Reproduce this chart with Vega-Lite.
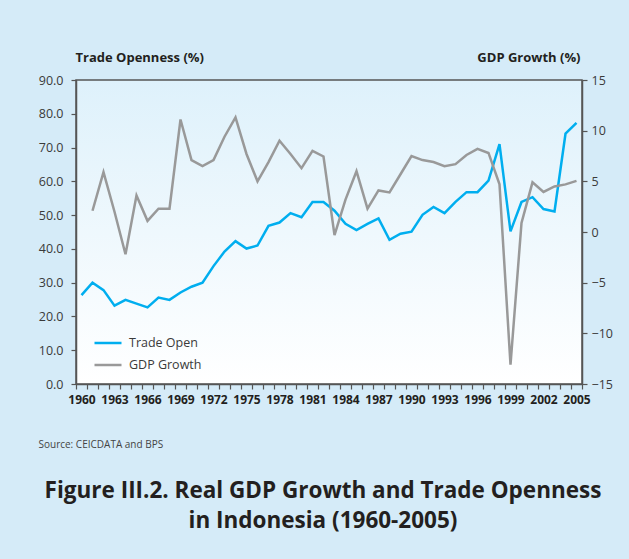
{
  "$schema": "https://vega.github.io/schema/vega-lite/v6.json",
  "width": 506,
  "height": 304,
  "autosize": {"type": "none"},
  "padding": {"left": 76, "top": 80, "right": 47, "bottom": 175},
  "background": "#d5ebf8",
  "title": {
    "text": ["Figure III.2. Real GDP Growth and Trade Openness", "in Indonesia (1960-2005)"],
    "orient": "bottom",
    "anchor": "middle",
    "font": "Open Sans",
    "fontSize": 22.5,
    "fontWeight": "bold",
    "lineHeight": 30,
    "color": "#231f20",
    "offset": 31,
    "dx": -6
  },
  "config": {
    "view": {
      "fill": {"gradient": "linear", "x1": 0, "y1": 0, "x2": 0, "y2": 1, "stops": [{"offset": 0, "color": "#def1fb"}, {"offset": 1, "color": "#ffffff"}]},
      "stroke": "#555555",
      "strokeWidth": 1.5
    },
    "axis": {
      "grid": false,
      "domainColor": "#555555",
      "domainWidth": 1.5,
      "tickColor": "#555555",
      "tickWidth": 1.2,
      "tickSize": 5,
      "labelFont": "Open Sans",
      "labelColor": "#3a3a3a",
      "titleFont": "Open Sans"
    }
  },
  "data": {
    "values": [
      {"year": 1960, "trade": 26.3, "gdp": null},
      {"year": 1961, "trade": 30.0, "gdp": 2.1},
      {"year": 1962, "trade": 27.8, "gdp": 5.9},
      {"year": 1963, "trade": 23.2, "gdp": 2.0},
      {"year": 1964, "trade": 24.9, "gdp": -2.2},
      {"year": 1965, "trade": 23.8, "gdp": 3.6},
      {"year": 1966, "trade": 22.7, "gdp": 1.1},
      {"year": 1967, "trade": 25.6, "gdp": 2.3},
      {"year": 1968, "trade": 24.9, "gdp": 2.3},
      {"year": 1969, "trade": 27.1, "gdp": 11.1},
      {"year": 1970, "trade": 28.8, "gdp": 7.1},
      {"year": 1971, "trade": 30.0, "gdp": 6.5},
      {"year": 1972, "trade": 34.9, "gdp": 7.1},
      {"year": 1973, "trade": 39.2, "gdp": 9.4},
      {"year": 1974, "trade": 42.3, "gdp": 11.3},
      {"year": 1975, "trade": 40.1, "gdp": 7.7},
      {"year": 1976, "trade": 41.0, "gdp": 5.0},
      {"year": 1977, "trade": 46.8, "gdp": 6.9},
      {"year": 1978, "trade": 47.8, "gdp": 9.0},
      {"year": 1979, "trade": 50.6, "gdp": 7.7},
      {"year": 1980, "trade": 49.4, "gdp": 6.3},
      {"year": 1981, "trade": 53.9, "gdp": 8.0},
      {"year": 1982, "trade": 53.9, "gdp": 7.45},
      {"year": 1983, "trade": 51.3, "gdp": -0.3},
      {"year": 1984, "trade": 47.4, "gdp": 3.2},
      {"year": 1985, "trade": 45.6, "gdp": 6.0},
      {"year": 1986, "trade": 47.4, "gdp": 2.3},
      {"year": 1987, "trade": 49.0, "gdp": 4.1},
      {"year": 1988, "trade": 42.7, "gdp": 3.9},
      {"year": 1989, "trade": 44.5, "gdp": 5.7},
      {"year": 1990, "trade": 45.1, "gdp": 7.5},
      {"year": 1991, "trade": 50.1, "gdp": 7.1},
      {"year": 1992, "trade": 52.4, "gdp": 6.9},
      {"year": 1993, "trade": 50.6, "gdp": 6.5},
      {"year": 1994, "trade": 53.9, "gdp": 6.7},
      {"year": 1995, "trade": 56.8, "gdp": 7.6},
      {"year": 1996, "trade": 56.8, "gdp": 8.2},
      {"year": 1997, "trade": 60.2, "gdp": 7.8},
      {"year": 1998, "trade": 71.0, "gdp": 4.7},
      {"year": 1999, "trade": 45.2, "gdp": -13.1},
      {"year": 2000, "trade": 53.9, "gdp": 0.9},
      {"year": 2001, "trade": 55.3, "gdp": 4.9},
      {"year": 2002, "trade": 51.8, "gdp": 3.95},
      {"year": 2003, "trade": 51.1, "gdp": 4.5},
      {"year": 2004, "trade": 74.1, "gdp": 4.7},
      {"year": 2005, "trade": 77.3, "gdp": 5.05}
    ]
  },
  "encoding": {
    "x": {
      "field": "year",
      "type": "ordinal",
      "bandPosition": 0.5,
      "scale": {"type": "band", "paddingInner": 0, "paddingOuter": 0},
      "axis": {
        "title": "Source: CEICDATA and BPS",
        "titleX": -38,
        "titleY": 63,
        "titleAlign": "left",
        "titleAnchor": null,
        "titleBaseline": "alphabetic",
        "titleFontSize": 10,
        "titleFontWeight": "normal",
        "titleColor": "#444444",
        "labelAngle": 0,
        "labelFontSize": 12,
        "labelFontWeight": "bold",
        "labelColor": "#231f20",
        "labelPadding": 5,
        "labelOverlap": false,
        "tickBand": "extent",
        "labelExpr": "(datum.value - 1960) % 3 == 0 ? datum.label : ''"
      }
    },
    "color": {
      "type": "nominal",
      "scale": {"domain": ["Trade Open", "GDP Growth"], "range": ["#00aeef", "#999999"]},
      "legend": {
        "title": null,
        "orient": "none",
        "legendX": 17,
        "legendY": 248,
        "symbolType": "stroke",
        "symbolSize": 729,
        "symbolStrokeWidth": 2.5,
        "labelFont": "Open Sans",
        "labelFontSize": 12.5,
        "labelColor": "#3a3a3a",
        "labelOffset": 6,
        "rowPadding": -6
      }
    }
  },
  "layer": [
    {
      "mark": {"type": "line", "strokeWidth": 2.5},
      "encoding": {
        "y": {
          "field": "trade",
          "type": "quantitative",
          "scale": {"domain": [0, 90], "nice": false, "zero": false},
          "axis": {
            "orient": "left",
            "values": [0, 10, 20, 30, 40, 50, 60, 70, 80, 90],
            "format": ".1f",
            "labelFontSize": 12.5,
            "labelPadding": 8,
            "title": "Trade Openness (%)",
            "titleAngle": 0,
            "titleX": -1,
            "titleY": -19,
            "titleAlign": "left",
            "titleAnchor": null,
            "titleBaseline": "alphabetic",
            "titleFontSize": 13,
            "titleFontWeight": "bold",
            "titleColor": "#231f20"
          }
        },
        "color": {"datum": "Trade Open"}
      }
    },
    {
      "mark": {"type": "line", "strokeWidth": 2.5},
      "encoding": {
        "y": {
          "field": "gdp",
          "type": "quantitative",
          "scale": {"domain": [-15, 15], "nice": false, "zero": false},
          "axis": {
            "orient": "right",
            "values": [-15, -10, -5, 0, 5, 10, 15],
            "labelFontSize": 12.5,
            "labelPadding": 4,
            "title": "GDP Growth (%)",
            "titleAngle": 0,
            "titleX": -2,
            "titleY": -19,
            "titleAlign": "right",
            "titleAnchor": null,
            "titleBaseline": "alphabetic",
            "titleFontSize": 13,
            "titleFontWeight": "bold",
            "titleColor": "#231f20"
          }
        },
        "color": {"datum": "GDP Growth"}
      }
    }
  ],
  "resolve": {"scale": {"y": "independent"}}
}
